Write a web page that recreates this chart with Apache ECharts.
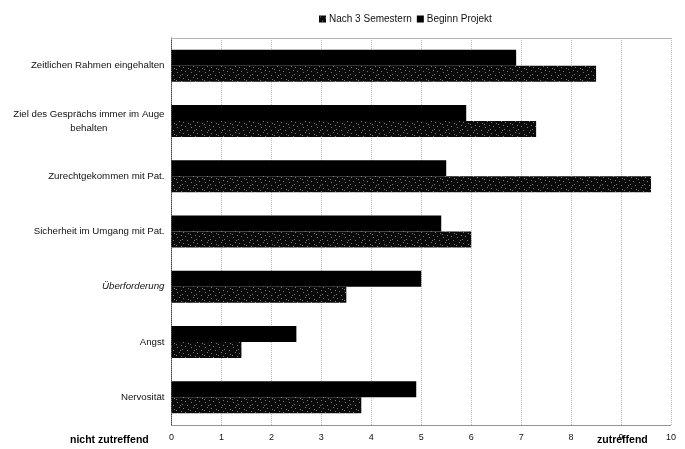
<!DOCTYPE html>
<html><head><meta charset="utf-8">
<script src="https://cdn.jsdelivr.net/npm/echarts@6/dist/echarts.min.js"></script>
<style>html,body{margin:0;padding:0;background:#fff}#c{width:685px;height:449px}</style>
</head><body><div id="c"></div>
<script>
var categories = ['Zeitlichen Rahmen eingehalten', 'Ziel des Gesprächs immer im Auge\nbehalten', 'Zurechtgekommen mit Pat.', 'Sicherheit im Umgang mit Pat.', 'Überforderung', 'Angst', 'Nervosität'];
var nach3Semestern = [8.5, 7.3, 9.6, 6.0, 3.5, 1.4, 3.8];
var beginnProjekt = [6.9, 5.9, 5.5, 5.4, 5.0, 2.5, 4.9];
var xTicks = [0, 1, 2, 3, 4, 5, 6, 7, 8, 9, 10];

// texture for the "Nach 3 Semestern" bars
var cv = document.createElement('canvas');
cv.width = 14; cv.height = 11;
var cx = cv.getContext('2d');
cx.fillStyle = '#0a0a0a'; cx.fillRect(0, 0, 14, 11);
cx.fillStyle = '#7a7a7a';
[[1,1],[6,2],[11,0],[3,5],[9,6],[13,4],[0,8],[5,9],[12,9],[8,3]].forEach(function(p){cx.fillRect(p[0], p[1], 1, 1);});
var texture = {image: cv, repeat: 'repeat'};

var chart = echarts.init(document.getElementById('c'), null, {renderer: 'canvas'});
var font = 'Liberation Sans, Arial, sans-serif';
chart.setOption({
  animation: false,
  textStyle: {fontFamily: font},
  legend: {
    top: 9, left: 314, itemWidth: 7, itemHeight: 7, itemGap: 5, icon: 'rect',
    data: ['Nach 3 Semestern', 'Beginn Projekt'],
    textStyle: {fontSize: 10, color: '#111', fontFamily: font, padding: [0, 0, 0, -2]}
  },
  grid: {left: 171.5, right: 14, top: 38, bottom: 24},
  xAxis: [{
    type: 'value', min: 0, max: 10, interval: 1,
    axisLine: {show: true, lineStyle: {color: '#888', type: 'dotted'}},
    axisTick: {show: false},
    axisLabel: {fontSize: 9, color: '#111', margin: 8, formatter: function(v){return xTicks.indexOf(v) >= 0 ? String(v) : '';}},
    splitLine: {show: true, lineStyle: {color: '#bbb', type: 'dotted'}}
  }, {
    type: 'value', min: 0, max: 10, interval: 1, position: 'top',
    axisLine: {show: true, lineStyle: {color: '#aaa', type: 'dotted'}},
    axisTick: {show: false}, axisLabel: {show: false}, splitLine: {show: false}
  }],
  yAxis: {
    type: 'category', data: categories, inverse: true,
    axisLine: {show: true, lineStyle: {color: '#444', type: 'dotted'}},
    axisTick: {show: false},
    axisLabel: {
      fontSize: 10, color: '#111', margin: 7, lineHeight: 14,
      formatter: function(v){
        var lines = v.split('\n');
        if (v === 'Überforderung') return '{i|' + v + '}';
        return lines.map(function(l){return '{c|' + l + '}';}).join('\n');
      },
      rich: {
        c: {align: 'center', fontSize: 9.7, color: '#111', fontFamily: font, lineHeight: 14},
        i: {fontStyle: 'italic', fontSize: 9.7, color: '#111', fontFamily: font}
      }
    }
  },
  series: [{
    name: 'Beginn Projekt', type: 'bar', data: beginnProjekt,
    itemStyle: {color: '#000'}, barWidth: 16, barGap: '0%'
  }, {
    name: 'Nach 3 Semestern', type: 'bar', data: nach3Semestern,
    itemStyle: {color: texture}, barWidth: 16, barGap: '0%'
  }],
  graphic: [
    {type: 'text', left: 70, top: 435, style: {text: 'nicht zutreffend', font: 'bold 10.5px ' + font, fill: '#000'}},
    {type: 'text', left: 597, top: 435, style: {text: 'zutreffend', font: 'bold 10.5px ' + font, fill: '#000'}}
  ]
});
</script></body></html>
